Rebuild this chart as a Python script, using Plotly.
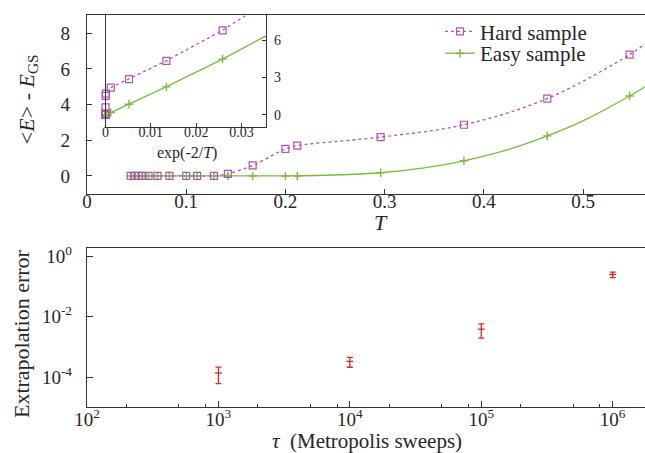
import numpy as np
import plotly.graph_objects as go

# ---------------- data ----------------
T = [0.044, 0.048, 0.052, 0.056, 0.062, 0.071, 0.083, 0.100, 0.111, 0.128,
     0.142, 0.167, 0.200, 0.212, 0.296, 0.380, 0.464, 0.547]
E_hard = [0, 0, 0, 0, 0, 0, 0, 0, 0, 0.01,
          0.12, 0.59, 1.52, 1.70, 2.18, 2.87, 4.34, 6.80]
E_easy = [0, 0, 0, 0, 0, 0, 0, 0, 0, 0,
          0, 0, 0, 0, 0.18, 0.85, 2.25, 4.48]

# guide curves in the main panel
hard_curve_T = T + [0.5625]
hard_curve_E = E_hard + [7.40]
easy_curve_T = [0.044, 0.150, 0.200, 0.250, 0.296, 0.340, 0.380, 0.420, 0.464, 0.500, 0.547, 0.5625]
easy_curve_E = [0.0, 0.0, 0.007, 0.054, 0.18, 0.45, 0.85, 1.40, 2.25, 3.09, 4.48, 5.00]

# guide lines in the inset, x = exp(-2/T)
hard_inset_x = [0.00116, 0.00518, 0.01336, 0.02583, 0.0354]
hard_inset_y = [2.18, 2.87, 4.34, 6.80, 9.05]
easy_inset_x = [0.00116, 0.00518, 0.01336, 0.02583, 0.0354]
easy_inset_y = [0.18, 0.85, 2.25, 4.48, 6.35]

# lower panel
tau = [1e3, 1e4, 1e5, 1e6]
extrap_err = [1.36e-4, 3.3e-4, 3.88e-3, 0.253]
extrap_err_bar = [7.6e-5, 1.19e-4, 1.94e-3, 0.053]

x_ticks_top = [0, 0.1, 0.2, 0.3, 0.4, 0.5]
x_ticktext_top = ["0", "0.1", "0.2", "0.3", "0.4", "0.5"]
y_ticks_top = [0, 2, 4, 6, 8]
inset_xticks = [0, 0.01, 0.02, 0.03]
inset_xticktext = ["0", "0.01", "0.02", "0.03"]
inset_yticks = [0, 3, 6]
tau_ticks = [1e2, 1e3, 1e4, 1e5, 1e6]
tau_ticktext = ["10<sup>2</sup>", "10<sup>3</sup>", "10<sup>4</sup>", "10<sup>5</sup>", "10<sup>6</sup>"]
tau_minor = [m * 10 ** k for k in range(2, 7) for m in (2, 5, 8)]
err_ticks = [1, 1e-2, 1e-4]
err_ticktext = ["10<sup>0</sup>", "10<sup>-2</sup>", "10<sup>-4</sup>"]

# ---------------- style ----------------
PURPLE = "#ad56ad"
GREEN = "#7bbb3c"
RED = "#d42a2a"
AX = "#333333"
TXT = "#262626"
FONT = "Liberation Serif"

W, H, L = 645, 453, 87
PW = W - L


def px(x):
    return (x - L) / PW


def py(y):
    return 1 - y / H


hard_marker = dict(symbol="square-open", size=7, color=PURPLE, line=dict(color=PURPLE, width=1.2))
easy_marker = dict(symbol="cross-thin", size=6, line=dict(color=GREEN, width=1.4))

fig = go.Figure()

# main panel curves
fig.add_trace(go.Scatter(x=hard_curve_T, y=hard_curve_E, mode="lines", line=dict(color=PURPLE, width=1.3, dash="dot", shape="spline"),
                         showlegend=False, xaxis="x", yaxis="y", hoverinfo="skip"))
fig.add_trace(go.Scatter(x=easy_curve_T, y=easy_curve_E, mode="lines", line=dict(color=GREEN, width=1.3, shape="spline"),
                         showlegend=False, xaxis="x", yaxis="y", hoverinfo="skip"))
fig.add_trace(go.Scatter(x=T, y=E_easy, mode="markers", marker=easy_marker,
                         showlegend=False, xaxis="x", yaxis="y"))
fig.add_trace(go.Scatter(x=T, y=E_hard, mode="markers", marker=hard_marker,
                         showlegend=False, xaxis="x", yaxis="y"))

# legend entries (one legend per row, so the rows sit where the reference has them)
fig.add_trace(go.Scatter(x=[None], y=[None], mode="lines+markers", name="Hard sample",
                         line=dict(color=PURPLE, width=1.3, dash="dot"), marker=hard_marker,
                         xaxis="x", yaxis="y", legend="legend"))
fig.add_trace(go.Scatter(x=[None], y=[None], mode="lines+markers", name="Easy sample",
                         line=dict(color=GREEN, width=1.3), marker=easy_marker,
                         xaxis="x", yaxis="y", legend="legend2"))

# inset
inset_x = np.exp(-2.0 / np.array(T))
fig.add_trace(go.Scatter(x=hard_inset_x, y=hard_inset_y, mode="lines", line=dict(color=PURPLE, width=1.3, dash="dot"),
                         showlegend=False, xaxis="x2", yaxis="y2", hoverinfo="skip"))
fig.add_trace(go.Scatter(x=easy_inset_x, y=easy_inset_y, mode="lines", line=dict(color=GREEN, width=1.3),
                         showlegend=False, xaxis="x2", yaxis="y2", hoverinfo="skip"))
fig.add_trace(go.Scatter(x=inset_x, y=E_easy, mode="markers", marker=easy_marker,
                         showlegend=False, xaxis="x2", yaxis="y2", cliponaxis=False))
fig.add_trace(go.Scatter(x=inset_x, y=E_hard, mode="markers", marker=hard_marker,
                         showlegend=False, xaxis="x2", yaxis="y2", cliponaxis=False))

# lower panel
fig.add_trace(go.Scatter(x=tau, y=extrap_err, mode="markers",
                         marker=dict(symbol="line-ew", size=5, line=dict(color=RED, width=1.3)),
                         error_y=dict(type="data", array=extrap_err_bar, visible=True, color=RED, thickness=1.3, width=3),
                         showlegend=False, xaxis="x3", yaxis="y3"))

axis_common = dict(showline=True, linecolor=AX, linewidth=1.4, ticks="inside", tickcolor=AX,
                   tickwidth=1, showgrid=False, zeroline=False,
                   tickfont=dict(family=FONT, size=19, color=TXT))
small_tick = dict(family=FONT, size=14, color=TXT)

top_dom = [py(191.5), py(11.5)]
bot_dom = [py(406.7), py(245.7)]

legend_common = dict(xanchor="left", yanchor="middle", bgcolor="rgba(0,0,0,0)",
                     font=dict(family=FONT, size=21, color=TXT), tracegroupgap=0)


def ann(text, x, y, size, angle=0):
    return dict(text=text, x=px(x), y=py(y), xref="paper", yref="paper", xanchor="center", yanchor="middle",
                textangle=angle, showarrow=False, font=dict(size=size, family=FONT, color=TXT))


fig.update_layout(
    width=W, height=H,
    margin=dict(l=L, r=0, t=0, b=0),
    paper_bgcolor="white", plot_bgcolor="white",
    font=dict(family=FONT, color=TXT),
    xaxis=dict(**axis_common, domain=[0, 1], range=[0, 0.5625], anchor="y", mirror=True,
               tickmode="array", tickvals=x_ticks_top, ticktext=x_ticktext_top, ticklen=5,
               ticklabelstandoff=-10),
    yaxis=dict(**axis_common, domain=top_dom, range=[-1, 9], anchor="x",
               tickmode="array", tickvals=y_ticks_top, ticklen=5, ticklabelstandoff=12),
    xaxis2=dict(**{**axis_common, "tickfont": small_tick},
                domain=[px(105.5), px(266)], range=[0, 0.0354], anchor="y2", mirror=True,
                tickmode="array", tickvals=inset_xticks, ticktext=inset_xticktext, ticklen=4,
                ticklabelstandoff=-8),
    yaxis2=dict(**{**axis_common, "tickfont": small_tick},
                domain=[py(124.3), py(11.5)], range=[-1, 8], anchor="x2", side="right", mirror=True,
                tickmode="array", tickvals=inset_yticks, ticklen=4, ticklabelstandoff=4),
    xaxis3=dict(**axis_common, type="log", domain=[0, 1], range=[2, 6.246], anchor="y3", mirror=True,
                tickmode="array", tickvals=tau_ticks, ticktext=tau_ticktext, ticklen=6,
                ticklabelstandoff=-5,
                minor=dict(ticks="inside", tickmode="array", tickvals=tau_minor, ticklen=3, tickcolor=AX)),
    yaxis3=dict(**axis_common, type="log", domain=bot_dom, range=[-5, 0.3], anchor="x3",
                tickmode="array", tickvals=err_ticks, ticktext=err_ticktext, ticklen=6, ticklabelstandoff=10),
    legend=dict(**legend_common, x=px(440), y=py(28)),
    legend2=dict(**legend_common, x=px(440), y=py(50)),
    annotations=[
        ann("&lt;<i>E</i>&gt; - <i>E</i><sub>GS</sub>", 28, 96, 22, -90),
        ann("<i>T</i>", 381, 220, 22),
        ann("exp(-2/<i>T</i>)", 187, 150, 16),
        ann("Extrapolation error", 21, 333, 22, -90),
        ann("<i>\u03c4</i>\u00a0\u00a0(Metropolis sweeps)", 367, 441, 21),
    ],
)

fig.write_html("out.html")
